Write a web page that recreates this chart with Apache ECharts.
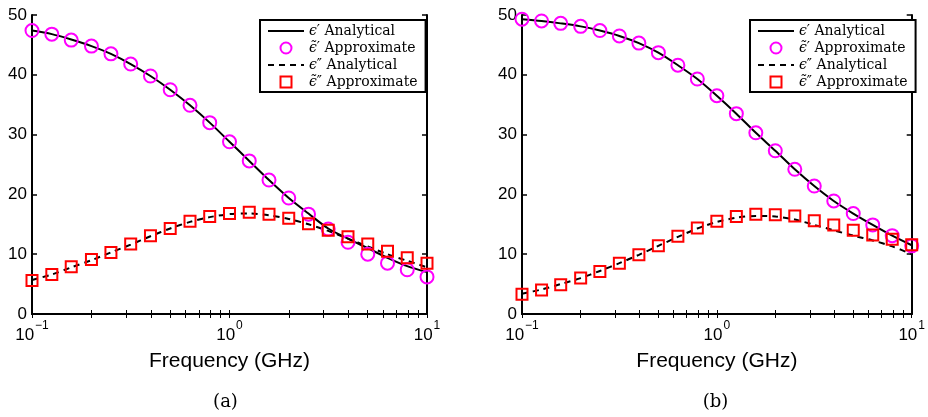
<!DOCTYPE html>
<html><head><meta charset="utf-8">
<script src="https://cdn.jsdelivr.net/npm/echarts@6/dist/echarts.min.js"></script>
<style>html,body{margin:0;padding:0;background:#fff}#c{width:928px;height:417px}</style>
</head><body><div id="c"></div>
<script>
// Frequency points (GHz), log-spaced
const freq = [0.1, 0.126, 0.158, 0.2, 0.251, 0.316, 0.398, 0.501, 0.631, 0.794, 1, 1.259, 1.585, 1.995, 2.512, 3.162, 3.981, 5.012, 6.31, 7.943, 10];
// Panel (a)
const aEps1Analytical = [47.4,46.8,45.9,44.8,43.5,41.8,39.8,37.5,34.9,32.0,28.8,25.6,22.4,19.4,16.8,14.3,12.6,11.0,9.4,8.0,7.0];
const aEps1Approx     = [47.4,46.8,45.8,44.8,43.5,41.8,39.8,37.5,34.9,32.0,28.8,25.6,22.4,19.4,16.7,14.2,12.0,10.0,8.5,7.4,6.2];
const aEps2Analytical = [5.7,6.6,7.8,9.0,10.3,11.6,13.0,14.3,15.4,16.2,16.7,16.8,16.5,15.9,15.0,13.9,12.6,11.3,10.0,8.9,7.8];
const aEps2Approx     = [5.6,6.6,7.9,9.1,10.3,11.7,13.1,14.3,15.5,16.3,16.8,17.0,16.7,16.0,15.1,14.0,12.9,11.7,10.5,9.4,8.5];
// Panel (b)
const bEps1Analytical = [49.3,49.0,48.6,48.1,47.4,46.5,45.3,43.7,41.6,39.3,36.5,33.5,30.3,27.3,24.2,21.4,18.9,16.8,14.9,13.1,11.5];
const bEps1Approx     = [49.3,49.0,48.6,48.1,47.4,46.5,45.3,43.7,41.6,39.3,36.5,33.5,30.3,27.3,24.2,21.4,18.9,16.8,14.9,13.1,11.4];
const bEps2Analytical = [3.4,4.1,5.0,6.0,7.2,8.5,9.9,11.4,12.9,14.3,15.4,16.1,16.4,16.3,15.8,14.9,14.0,13.1,12.3,11.3,10.0];
const bEps2Approx     = [3.3,4.0,4.9,6.0,7.1,8.5,9.9,11.4,13.0,14.4,15.5,16.3,16.7,16.6,16.4,15.6,14.9,14.0,13.2,12.5,11.6];
// Ticks
const xMajorTicks = [0.1, 1, 10];
const xAllTicks = [0.1,0.2,0.3,0.4,0.5,0.6,0.7,0.8,0.9,1,2,3,4,5,6,7,8,9,10];
const yTicks = [0,10,20,30,40,50];
const names = ['\u03F5\u2032 Analytical', '\u03F5\u0303\u2032 Approximate', '\u03F5\u2033 Analytical', '\u03F5\u0303\u2033 Approximate'];
const panelLabels = ['(a)', '(b)'];

const pair = arr => freq.map((f, i) => [f, arr[i]]);
const sans = 'Liberation Sans';
const serif = 'DejaVu Serif';
const grids = [
  {left: 32, top: 15, width: 395, height: 299},
  {left: 522, top: 15, width: 395, height: 299}
];
const xAxes = [], yAxes = [], series = [], legends = [], graphics = [];
const panelData = [
  [aEps1Analytical, aEps1Approx, aEps2Analytical, aEps2Approx],
  [bEps1Analytical, bEps1Approx, bEps2Analytical, bEps2Approx]
];
const hidden = {color: 'rgba(0,0,0,0)', borderColor: 'rgba(0,0,0,0)', borderWidth: 0, opacity: 0};
const legendData = [
  {name: names[0], itemStyle: hidden},
  {name: names[1], icon: 'circle', itemStyle: {color: 'rgba(255,255,255,0)', borderColor: '#ff00ff', borderWidth: 2}},
  {name: names[2], itemStyle: hidden},
  {name: names[3], icon: 'path://M0,0L1,0L1,1L0,1Z', itemStyle: {color: 'rgba(255,255,255,0)', borderColor: '#ff0000', borderWidth: 2}}
];
grids.forEach((g, gi) => {
  ['bottom', 'top'].forEach(pos => {
    xAxes.push({
      type: 'log', logBase: 10, gridIndex: gi, position: pos, min: 0.1, max: 10,
      axisLine: {show: true, lineStyle: {color: '#000', width: 2}},
      axisTick: {show: true, inside: true, length: 4, customValues: xAllTicks, lineStyle: {color: '#000', width: 1}},
      axisLabel: pos === 'bottom' ? {
        show: true, margin: 6, customValues: xMajorTicks,
        formatter: v => '{b|10}{s|' + String(Math.round(Math.log10(v))).replace('-', '\u2212') + '}',
        rich: {
          b: {fontFamily: sans, fontSize: 17, color: '#000', lineHeight: 24, verticalAlign: 'bottom'},
          s: {fontFamily: sans, fontSize: 12, color: '#000', lineHeight: 24, verticalAlign: 'top', padding: [0,0,0,1]}
        }
      } : {show: false},
      splitLine: {show: false},
      name: pos === 'bottom' ? 'Frequency (GHz)' : '',
      nameLocation: 'middle', nameGap: 37,
      nameTextStyle: {fontFamily: sans, fontSize: 21, color: '#000'}
    });
  });
  ['left', 'right'].forEach(pos => {
    yAxes.push({
      type: 'value', gridIndex: gi, position: pos, min: 0, max: 50, interval: 10,
      axisLine: {show: true, lineStyle: {color: '#000', width: 2}},
      axisTick: {show: true, inside: true, length: 5, lineStyle: {color: '#000', width: 1.5}},
      axisLabel: pos === 'left' ? {show: true, margin: 5, fontFamily: sans, fontSize: 17, color: '#000'} : {show: false},
      splitLine: {show: false}
    });
  });
  const d = panelData[gi];
  const xi = gi * 2, yi = gi * 2;
  series.push({
    name: names[0], type: 'line', xAxisIndex: xi, yAxisIndex: yi, data: pair(d[0]),
    smooth: 0.3, symbol: 'none', lineStyle: {color: '#000', width: 2, type: 'solid'}, itemStyle: {color: '#000'}, z: 2
  });
  series.push({
    name: names[2], type: 'line', xAxisIndex: xi, yAxisIndex: yi, data: pair(d[2]),
    smooth: 0.3, symbol: 'none', lineStyle: {color: '#000', width: 2, type: [6, 5]}, itemStyle: {color: '#000'}, z: 2
  });
  series.push({
    name: names[1], type: 'scatter', xAxisIndex: xi, yAxisIndex: yi, data: pair(d[1]),
    symbol: 'circle', symbolSize: 13, symbolKeepAspect: true,
    itemStyle: {color: 'rgba(255,255,255,0)', borderColor: '#ff00ff', borderWidth: 2, opacity: 1}, z: 3
  });
  series.push({
    name: names[3], type: 'scatter', xAxisIndex: xi, yAxisIndex: yi, data: pair(d[3]),
    symbol: 'rect', symbolSize: 11, symbolKeepAspect: true,
    itemStyle: {color: 'rgba(255,255,255,0)', borderColor: '#ff0000', borderWidth: 2, opacity: 1}, z: 3
  });
  legends.push({
    data: legendData, orient: 'vertical', left: g.left + g.width - 167, top: 20,
    padding: [4, 8, 3, 7], itemGap: 3, itemWidth: 36, itemHeight: 11,
    backgroundColor: '#fff', borderColor: '#000', borderWidth: 2, borderRadius: 0,
    selectedMode: false, z: 10, symbolKeepAspect: true,
    formatter: n => {
      const m = n.match(/^([\u03F5][\u0303]?)([\u2032\u2033])(.*)$/);
      return m ? '{e|' + m[1] + '}{p|' + m[2] + '}' + m[3] : n;
    },
    textStyle: {fontFamily: serif, fontSize: 14, color: '#000', rich: {
      e: {fontFamily: serif, fontSize: 14, fontStyle: 'italic', color: '#000'},
      p: {fontFamily: serif, fontSize: 14, color: '#000'}
    }}
  });
  graphics.push({
    type: 'text', x: g.left + g.width / 2 - 4, y: 402,
    style: {text: panelLabels[gi], fontFamily: serif, fontSize: 18, fill: '#000', align: 'center', verticalAlign: 'middle'}
  });
});

const chart = echarts.init(document.getElementById('c'), null, {renderer: 'canvas'});
chart.setOption({
  animation: false,
  backgroundColor: '#fff',
  grid: grids,
  xAxis: xAxes,
  yAxis: yAxes,
  legend: legends,
  series: series,
  graphic: graphics
});
</script></body></html>
